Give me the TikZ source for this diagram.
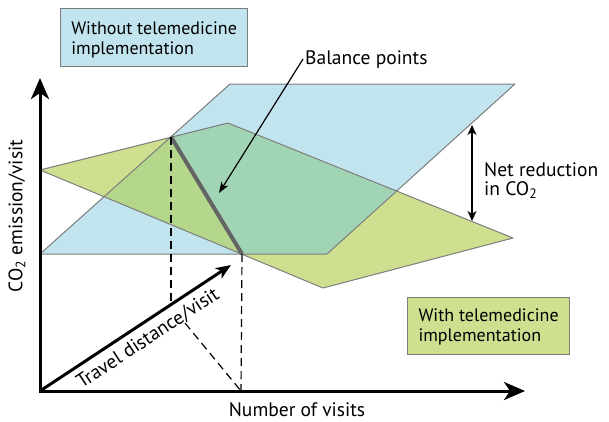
\documentclass[tikz,border=0pt]{standalone}
\usepackage{fontspec}
\setmainfont{PT Sans}
\usetikzlibrary{arrows.meta}
\definecolor{planeblue}{RGB}{194,228,238}
\definecolor{planegreen}{RGB}{206,224,143}
\definecolor{ovleft}{RGB}{180,215,140}
\definecolor{ovright}{RGB}{161,212,181}
\definecolor{edgegray}{RGB}{125,125,125}
\definecolor{balgray}{RGB}{100,100,100}
\begin{document}
\begin{tikzpicture}[x=1pt,y=-1pt,
  every node/.style={font=\fontsize{19.5}{19}\selectfont, inner sep=2pt},
  boxfont/.style={font=\fontsize{18}{20}\selectfont},
  edge/.style={draw=edgegray, line width=1pt, line join=round},
  dashline/.style={draw=black, line width=1.2pt, dash pattern=on 8pt off 5pt},
  axisline/.style={draw=black, line width=3pt, line join=miter, {Stealth[length=21pt,width=18pt,inset=6pt]}-{Stealth[length=21pt,width=18pt,inset=6pt]}},
  travelarrow/.style={draw=black, line width=3pt, -{Stealth[length=15pt,width=12pt,inset=4pt]}},
  thinarrow/.style={draw=black, line width=1.2pt},
  legendbox/.style={draw=edgegray, line width=1.2pt, inner sep=0pt},
  legendtext/.style={boxfont, align=left, inner sep=0pt},
]
\useasboundingbox (0,0) rectangle (609,421);
% key points
\coordinate (O) at (40,391);
\coordinate (Ytip) at (40,78);
\coordinate (Xtip) at (525,391);
\coordinate (Tt) at (231,265);
% blue plane (without telemedicine)
\coordinate (b1) at (40,254);
\coordinate (b2) at (230,84);
\coordinate (b3) at (515,84);
\coordinate (b4) at (327,254);
% green plane (with telemedicine)
\coordinate (g1) at (40,170);
\coordinate (g2) at (228,123);
\coordinate (g3) at (513,238);
\coordinate (g4) at (323,288);
% intersections
\coordinate (P) at (171,137);
\coordinate (Q) at (242,254);
\coordinate (L) at (104,197);
\coordinate (R) at (397,191);
\coordinate (Pd) at (171,303);
\coordinate (Dd) at (185,323);
\coordinate (Qx) at (241,391);
\coordinate (balend) at (219,193);
\coordinate (nrTop) at (472,125);
\coordinate (nrBot) at (472,221);

% planes
\fill[planeblue] (b1)--(b2)--(b3)--(b4)--cycle;
\fill[planegreen] (g1)--(g2)--(g3)--(g4)--cycle;
\fill[ovleft] (L)--(P)--(Q)--cycle;
\fill[ovright] (P)--(g2)--(R)--(b4)--(Q)--cycle;
\draw[edge] (b1)--(b2)--(b3)--(b4)--cycle;
\draw[edge] (g1)--(g2)--(g3)--(g4)--cycle;
\draw[draw=balgray, line width=4pt] (P)--(Q);

% dashed projections
\draw[dashline] (P)--(Pd);
\draw[dashline] (Q)--(Qx);
\draw[dashline] (Dd)--(Qx);

% axes
\draw[axisline] (Ytip)--(O)--(Xtip);
\draw[travelarrow] (O) -- node[sloped, below=4pt, pos=0.52] (travel) {Travel distance/visit} (Tt);

% labels
\node[anchor=base] (xlab) at (297,416) {Number of visits};
\node[rotate=90] (ylab) at (17,216) {CO\textsubscript{2} emission/visit};

\node[anchor=base west] (bal) at (303,64) {Balance points};
\draw[thinarrow, -{Stealth[length=11pt,width=8pt,inset=3pt]}] (bal.west) -- (balend);

\draw[thinarrow, {Stealth[length=10pt,width=9pt,inset=3pt]}-{Stealth[length=10pt,width=9pt,inset=3pt]}] (nrTop)--(nrBot);
\node[anchor=west, align=left] (net) at (482,181) {Net reduction\\in CO\textsubscript{2}};

\node[legendbox, fill=planeblue, anchor=north west, minimum width=187pt, minimum height=58pt] (without) at (60,8) {};
\node[legendtext] (withouttext) at ([yshift=-2.5pt]without.center) {Without telemedicine\\implementation};
\node[legendbox, fill=planegreen, anchor=north west, minimum width=162pt, minimum height=57pt] (with) at (407,297) {};
\node[legendtext] (withtext) at ([yshift=-1pt]with.center) {With telemedicine\\implementation};
\end{tikzpicture}
\end{document}
